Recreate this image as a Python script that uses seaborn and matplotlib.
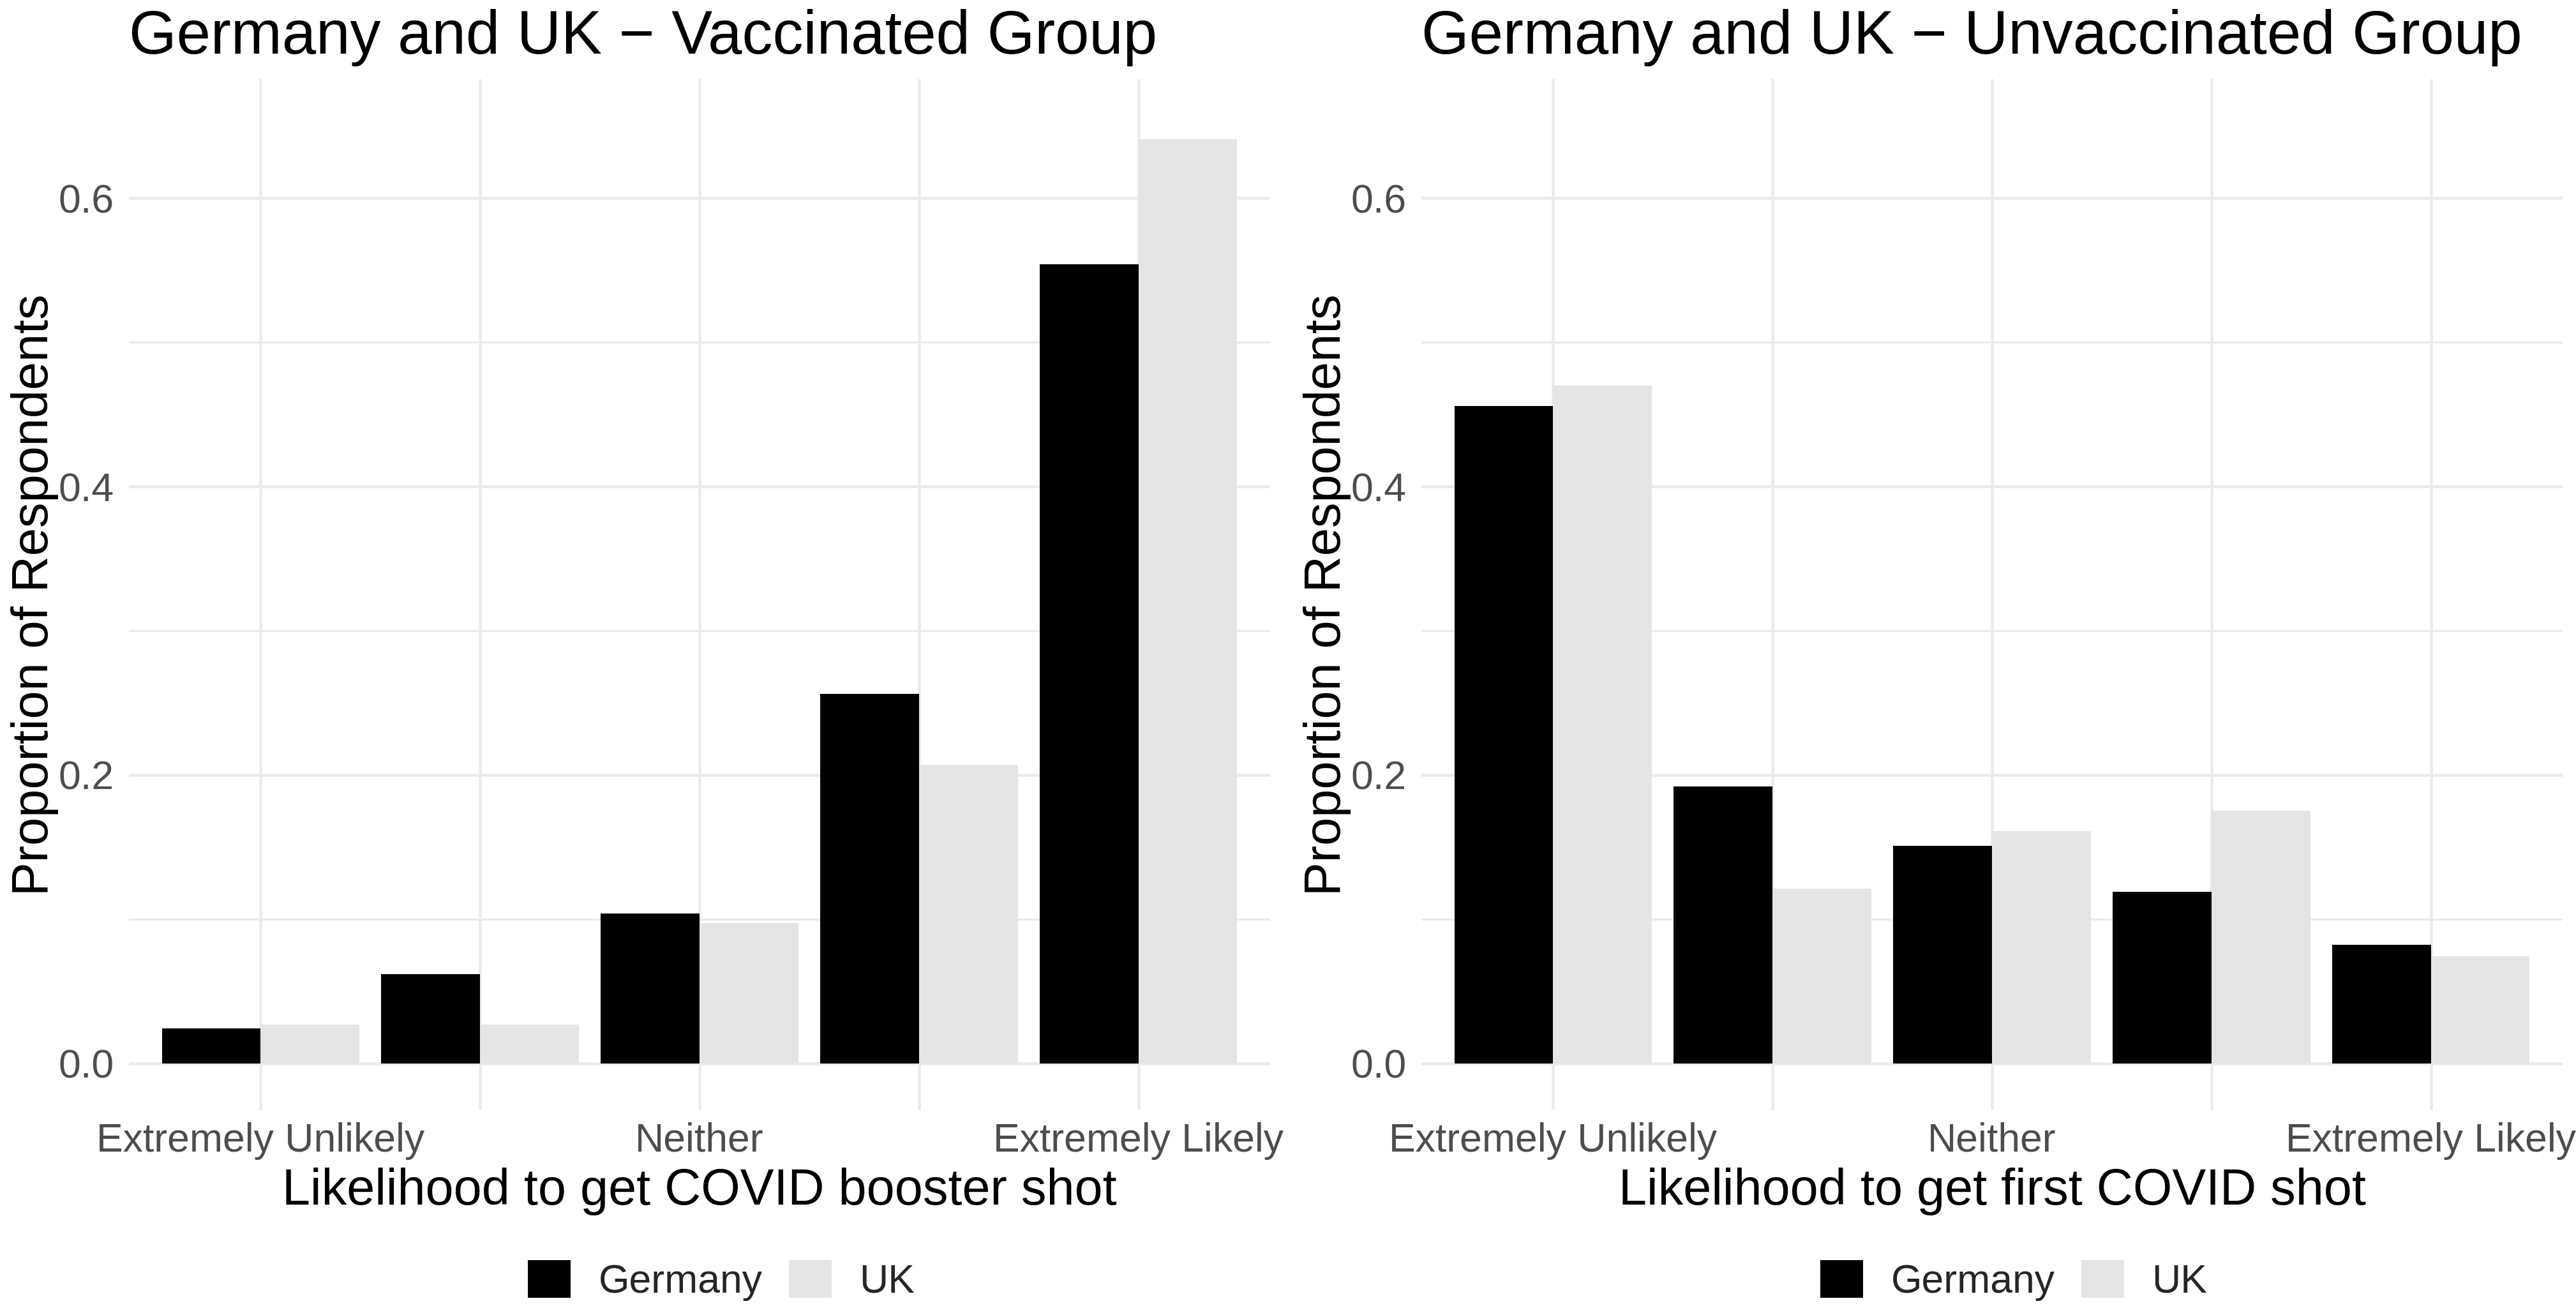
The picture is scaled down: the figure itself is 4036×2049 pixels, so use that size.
import matplotlib
matplotlib.use("Agg")
import matplotlib.pyplot as plt
from matplotlib.patches import Patch
import seaborn as sns
import pandas as pd

# ---- data ----
likelihood = [1, 2, 3, 4, 5]
tick_labels = ["Extremely Unlikely", "", "Neither", "", "Extremely Likely"]
countries = ["Germany", "UK"]

vacc_germany = [0.024, 0.062, 0.104, 0.256, 0.554]
vacc_uk = [0.027, 0.027, 0.097, 0.207, 0.641]

unvacc_germany = [0.456, 0.192, 0.151, 0.119, 0.082]
unvacc_uk = [0.470, 0.121, 0.161, 0.175, 0.074]

titles = ["Germany and UK \u2212 Vaccinated Group", "Germany and UK \u2212 Unvaccinated Group"]
xlabels = ["Likelihood to get COVID booster shot", "Likelihood to get first COVID shot"]
ylabel = "Proportion of Respondents"
y_major = [0.0, 0.2, 0.4, 0.6]
y_minor = [0.1, 0.3, 0.5]

palette = {"Germany": "#000000", "UK": "#E5E5E5"}


def make_df(g, u):
    return pd.DataFrame({
        "likelihood": likelihood * 2,
        "prop": list(g) + list(u),
        "country": ["Germany"] * len(g) + ["UK"] * len(u),
    })


dfs = [make_df(vacc_germany, vacc_uk), make_df(unvacc_germany, unvacc_uk)]

sns.set_theme(style="white")
plt.rcParams["font.family"] = ["Liberation Sans", "DejaVu Sans"]

W, H, DPI = 4036, 2049, 300
fig = plt.figure(figsize=(W / DPI, H / DPI), dpi=DPI)
fig.patch.set_facecolor("white")

ax_left_px = [202, 2227]
ax_w_px = 1788
ax_top_px, ax_bot_px = 124, 1739

grid_col = "#EBEBEB"
for i in range(2):
    ax = fig.add_axes([ax_left_px[i] / W, 1 - ax_bot_px / H, ax_w_px / W, (ax_bot_px - ax_top_px) / H])
    sns.barplot(data=dfs[i], x="likelihood", y="prop", hue="country", order=likelihood,
                hue_order=countries, palette=palette, width=0.9, saturation=1,
                linewidth=0, legend=False, ax=ax, zorder=3)
    ax.set_xlim(-0.6, 4.6)
    ax.set_ylim(-0.0325, 0.6825)
    for s in ax.spines.values():
        s.set_visible(False)
    ax.set_facecolor("white")
    # grid
    for x in range(5):
        ax.axvline(x, color=grid_col, lw=1.1, zorder=1)
    for y in y_major:
        ax.axhline(y, color=grid_col, lw=1.1, zorder=1)
    for y in y_minor:
        ax.axhline(y, color=grid_col, lw=0.8, zorder=1)
    ax.set_xticks(range(5))
    ax.set_xticklabels(tick_labels)
    ax.set_yticks(y_major)
    ax.set_yticklabels([f"{v:.1f}" for v in y_major])
    ax.tick_params(axis="both", length=0, labelsize=15, colors="#4D4D4D")
    ax.tick_params(axis="x", pad=4.5)
    ax.tick_params(axis="y", pad=5.5)
    ax.set_xlabel(xlabels[i], fontsize=19, color="black", labelpad=3)
    ax.set_ylabel(ylabel, fontsize=19, color="black", labelpad=0)
    ax.set_title(titles[i], loc="left", fontsize=23, color="black", pad=9.5)

    handles = [Patch(facecolor=palette[c], edgecolor="none", label=c) for c in countries]
    ax.legend(handles=handles, loc="center", bbox_to_anchor=(0.519, -0.1653), ncol=2,
              frameon=False, fontsize=15, handlelength=1.07, handleheight=1.07,
              handletextpad=0.7, columnspacing=0.66, borderpad=0, borderaxespad=0)

fig.savefig("out.png", dpi=DPI, facecolor="white")
